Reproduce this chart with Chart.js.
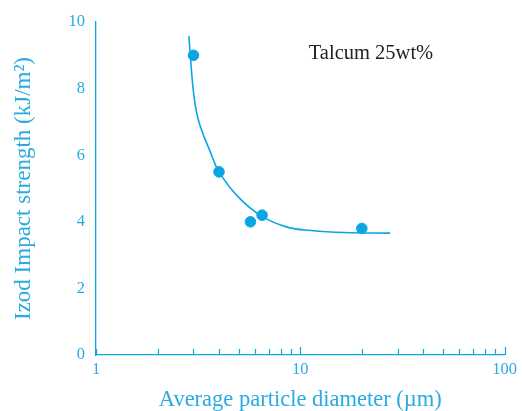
<!DOCTYPE html>
<html>
<head>
<meta charset="utf-8">
<script src="https://cdn.jsdelivr.net/npm/chart.js@4"></script>
<style>
  html, body { margin: 0; padding: 0; background: #ffffff; }
  #wrap { width: 522px; height: 411px; }
</style>
</head>
<body>
<div id="wrap"><canvas id="c" width="522" height="411"></canvas></div>
<script>
// ---- data ----
const pointsX = [3.0, 4.0, 5.7, 6.5, 20];
const pointsY = [9.0, 5.5, 4.0, 4.2, 3.8];
const curveX = [2.85, 2.88, 3.02, 3.19, 3.61, 4.0, 4.98, 6.46, 8.63, 11.3, 16.4, 27.5];
const curveY = [9.58, 9.16, 7.75, 7.00, 6.13, 5.50, 4.74, 4.17, 3.84, 3.74, 3.68, 3.66];
const xTickValues = [1, 2, 3, 4, 5, 6, 7, 8, 9, 10, 20, 30, 40, 50, 60, 70, 80, 90, 100];
const xTickLabels = [1, 10, 100];
const yTickValues = [0, 2, 4, 6, 8, 10];
const annotationText = 'Talcum 25wt%';
const annotationPos = [11, 8.9];
const xTitle = 'Average particle diameter (µm)';
const yTitle = 'Izod Impact strength (kJ/m²)';

const CYAN = '#0aa6e4';
const TEXT_CYAN = '#29abe2';
const SERIF = '"Liberation Serif", "Times New Roman", serif';

const xyPoints = pointsX.map((x, i) => ({ x, y: pointsY[i] }));
const xyCurve = curveX.map((x, i) => ({ x, y: curveY[i] }));

const insideTicks = {
  id: 'insideTicks',
  afterDraw(chart) {
    const xs = chart.scales.x;
    const ctx = chart.ctx;
    const y0 = chart.chartArea.bottom;
    ctx.save();
    ctx.strokeStyle = CYAN;
    ctx.lineWidth = 1.2;
    xTickValues.forEach(v => {
      const px = Math.round(xs.getPixelForValue(v)) + 0.5;
      const len = (v === 10 || v === 100) ? 8 : 6;
      ctx.beginPath();
      ctx.moveTo(px, y0);
      ctx.lineTo(px, y0 - len);
      ctx.stroke();
    });
    ctx.restore();
  }
};

const annotation = {
  id: 'annotation',
  afterDraw(chart) {
    const ctx = chart.ctx;
    const px = chart.scales.x.getPixelForValue(annotationPos[0]);
    const py = chart.scales.y.getPixelForValue(annotationPos[1]);
    ctx.save();
    ctx.fillStyle = '#222222';
    ctx.font = '20.5px ' + SERIF;
    ctx.textAlign = 'left';
    ctx.textBaseline = 'alphabetic';
    ctx.fillText(annotationText, px, py);
    ctx.restore();
  }
};

new Chart(document.getElementById('c'), {
  type: 'scatter',
  data: {
    datasets: [
      {
        type: 'line',
        label: 'fit',
        data: xyCurve,
        borderColor: CYAN,
        borderWidth: 1.6,
        pointRadius: 0,
        fill: false,
        tension: 0.4
      },
      {
        label: 'data',
        data: xyPoints,
        backgroundColor: CYAN,
        borderColor: CYAN,
        pointRadius: 5.3,
        pointHoverRadius: 5.3
      }
    ]
  },
  options: {
    responsive: false,
    animation: false,
    events: [],
    layout: { padding: { top: 22, right: 13, left: 0, bottom: 0 } },
    plugins: {
      legend: { display: false },
      tooltip: { enabled: false }
    },
    scales: {
      x: {
        type: 'logarithmic',
        min: 1,
        max: 100,
        afterBuildTicks(scale) { scale.ticks = xTickValues.map(v => ({ value: v })); },
        afterFit(scale) { scale.height = 56; },
        grid: { display: true, drawOnChartArea: false, drawTicks: false },
        border: { display: true, color: CYAN, width: 1.3 },
        ticks: {
          autoSkip: false,
          maxRotation: 0,
          padding: 5,
          color: TEXT_CYAN,
          font: { family: SERIF, size: 16.5 },
          callback: (v) => xTickLabels.includes(v) ? String(v) : ''
        },
        title: {
          display: true,
          text: xTitle,
          color: TEXT_CYAN,
          font: { family: SERIF, size: 22.5, lineHeight: 1 },
          padding: { top: 0, bottom: 0 }
        }
      },
      y: {
        min: 0,
        max: 10,
        afterBuildTicks(scale) { scale.ticks = yTickValues.map(v => ({ value: v })); },
        afterFit(scale) { scale.width = 96; },
        grid: { display: true, drawOnChartArea: false, drawTicks: false },
        border: { display: true, color: CYAN, width: 1.3 },
        ticks: {
          padding: 11,
          color: TEXT_CYAN,
          font: { family: SERIF, size: 16.5 }
        },
        title: {
          display: true,
          text: yTitle,
          color: TEXT_CYAN,
          font: { family: SERIF, size: 23, lineHeight: 1 },
          padding: { top: 12.5, bottom: 0 }
        }
      }
    }
  },
  plugins: [insideTicks, annotation]
});
</script>
</body>
</html>
